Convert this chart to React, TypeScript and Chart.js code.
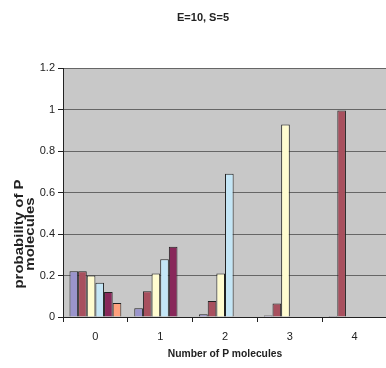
import React, { useEffect, useRef } from "react";
import { Chart, registerables } from "chart.js";

Chart.register(...registerables);

const categories = ["0", "1", "2", "3", "4"];
const seriesA = [0.22, 0.042, 0.013, 0.007, 0.005];
const seriesB = [0.22, 0.124, 0.077, 0.065, 0.995];
const seriesC = [0.2, 0.21, 0.21, 0.928, null];
const seriesD = [0.165, 0.278, 0.69, null, null];
const seriesE = [0.12, 0.339, null, null, null];
const seriesF = [0.067, null, null, null, null];
const yTicks = [0, 0.2, 0.4, 0.6, 0.8, 1, 1.2];

const chartTitle = "E=10, S=5";
const xTitle = "Number of P molecules";
const yTitleLines = ["probability of P", "molecules"];

const colors = ["#9a94cc", "#a8505e", "#fffcd0", "#c4e6f6", "#88285a", "#ffa07c"];
const seriesList = [seriesA, seriesB, seriesC, seriesD, seriesE, seriesF];

const FONT = "'Liberation Sans', Arial, sans-serif";

const bgPlugin = {
  id: "plotBg",
  beforeDraw(chart: any) {
    const { ctx, chartArea } = chart;
    ctx.save();
    ctx.fillStyle = "#c8c8c8";
    ctx.fillRect(chartArea.left, chartArea.top, chartArea.right - chartArea.left, chartArea.bottom - chartArea.top);
    ctx.restore();
  },
  afterDraw(chart: any) {
    const { ctx } = chart;
    ctx.save();
    ctx.fillStyle = "#222";
    ctx.font = `bold 11px ${FONT}`;
    ctx.textAlign = "center";
    ctx.textBaseline = "middle";
    ctx.fillText(chartTitle, 203, 18);
    ctx.translate(25, 234);
    ctx.rotate(-Math.PI / 2);
    ctx.scale(1.25, 1);
    ctx.font = `bold 12px ${FONT}`;
    ctx.fillText(yTitleLines[0], 0, -5);
    ctx.fillText(yTitleLines[1], 0, 6);
    ctx.restore();
  },
};

export default function App() {
  const ref = useRef<HTMLCanvasElement>(null);
  useEffect(() => {
    document.body.style.margin = "0";
    document.body.style.overflow = "hidden";
    const chart = new Chart(ref.current!, {
      type: "bar",
      data: {
        labels: categories,
        datasets: seriesList.map((d, i) => ({
          label: `s${i + 1}`,
          data: d,
          backgroundColor: colors[i],
          borderColor: "#222",
          borderWidth: 1,
          categoryPercentage: 0.8,
          barPercentage: 1,
        })),
      },
      options: {
        responsive: false,
        animation: false,
        layout: { padding: { top: 68, right: 0, left: 0, bottom: 8 } },
        plugins: { legend: { display: false }, tooltip: { enabled: false }, title: { display: false } },
        scales: {
          x: {
            offset: true,
            grid: { display: true, drawOnChartArea: false, offset: true, tickLength: 5, tickColor: "#222" },
            border: { color: "#222", width: 1 },
            ticks: { color: "#222", font: { family: FONT, size: 11 }, padding: 8 },
            title: { display: true, text: xTitle, color: "#222", font: { family: FONT, size: 10.3, weight: "bold" }, padding: 0 },
            afterFit: (s: any) => { s.height = 43; },
          },
          y: {
            min: 0,
            max: 1.2,
            afterBuildTicks: (s: any) => { s.ticks = yTicks.map((v) => ({ value: v })); },
            grid: { color: "#666", lineWidth: 1, tickLength: 5, tickColor: "#222" },
            border: { color: "#222", width: 1 },
            ticks: { color: "#222", font: { family: FONT, size: 11 }, padding: 3, callback: (v: any) => String(Math.round(v * 10) / 10) },
            afterFit: (s: any) => { s.width = 63; },
          },
        },
      },
      plugins: [bgPlugin],
    });
    return () => chart.destroy();
  }, []);
  return (
    <div style={{ position: "fixed", left: 0, top: 0, width: 387, height: 368, background: "#fff" }}>
      <canvas ref={ref} width={387} height={368} />
    </div>
  );
}
